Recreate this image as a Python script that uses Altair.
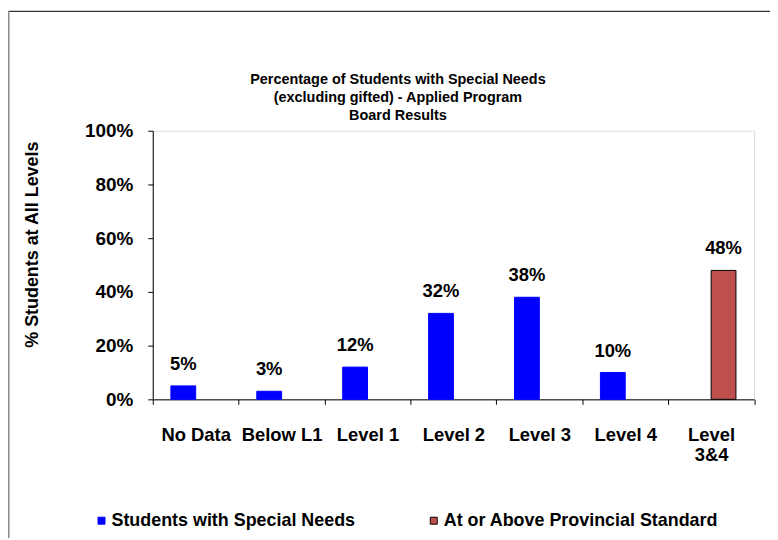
import altair as alt
import pandas as pd

categories = ["No Data", "Below L1", "Level 1", "Level 2", "Level 3", "Level 4", "Level 3&4"]
values = [5, 3, 12, 32, 38, 10, 48]
series_names = ["Students with Special Needs", "At or Above Provincial Standard"]
series = [series_names[0]] * 6 + [series_names[1]]
fill_colors = ["#0000FF", "#C0504D"]
stroke_colors = ["#0000FF", "#000000"]
title_lines = [
    "Percentage of Students with Special Needs",
    "(excluding gifted) - Applied Program",
    "Board Results",
]
y_ticks = [0, 0.2, 0.4, 0.6, 0.8, 1.0]

df = pd.DataFrame({
    "category": categories,
    "value": [v / 100 for v in values],
    "series": series,
})

FONT = "Liberation Sans"

x = alt.X(
    "category:N",
    sort=categories,
    scale=alt.Scale(paddingInner=0, paddingOuter=0),
    axis=alt.Axis(
        title=None, labelAngle=0, labelFont=FONT, labelFontSize=18.5,
        labelFontWeight="bold", labelColor="black", labelPadding=21,
        labelLineHeight=21, labelBaseline="top", labelLimit=300,
        labelExpr="datum.label == 'Level 3&4' ? ['Level', '3&4'] : datum.label",
        tickBand="extent", tickSize=5, tickColor="black", domainColor="black",
        labelOverlap=False,
    ),
)
xoff = alt.XOffset(
    "series:N", sort=series_names,
    scale=alt.Scale(domain=series_names, paddingInner=0, paddingOuter=0.731),
)
y = alt.Y(
    "value:Q",
    scale=alt.Scale(domain=[0, 1]),
    axis=alt.Axis(
        format=".0%", values=y_ticks, grid=False, title="% Students at All Levels",
        titleFont=FONT, titleFontSize=18, titleFontWeight="bold", titleColor="black",
        titleX=-120.5, titleY=114, titleAlign="center", titleBaseline="middle",
        labelFont=FONT, labelFontSize=19, labelFontWeight="bold", labelColor="black",
        labelPadding=15, tickSize=5, tickColor="black", domainColor="black",
    ),
)

legend = alt.Legend(
    title=None, orient="none", legendX=-60.5, legendY=383, direction="horizontal",
    symbolType="square", symbolSize=49, symbolStrokeWidth=1,
    labelFont=FONT, labelFontSize=18, labelFontWeight="bold", labelColor="black",
    labelLimit=400, columnPadding=69, labelOffset=1,
)

bars = alt.Chart(df).mark_bar(strokeWidth=1).encode(
    x=x, xOffset=xoff, y=y,
    fill=alt.Fill("series:N", scale=alt.Scale(domain=series_names, range=fill_colors), legend=legend),
    stroke=alt.Stroke("series:N", scale=alt.Scale(domain=series_names, range=stroke_colors), legend=legend),
)

labels = alt.Chart(df).mark_text(
    font=FONT, fontSize=18.5, fontWeight="bold", baseline="alphabetic", dy=-16, color="black"
).encode(x=x, xOffset=xoff, y=y, text=alt.Text("value:Q", format=".0%"))

one = pd.DataFrame({"k": [0]})
title = alt.Chart(one).mark_text(
    font=FONT, fontSize=14.5, fontWeight="bold", color="black", align="center",
    baseline="top", lineHeight=18,
).encode(x=alt.value(246.5), y=alt.value(-58), text=alt.value(title_lines))

frame_top = alt.Chart(one).mark_rule(color="#333333", strokeWidth=1.5).encode(
    x=alt.value(-145), x2=alt.value(640), y=alt.value(-120)
)
frame_left = alt.Chart(one).mark_rule(color="#888888", strokeWidth=1.5).encode(
    x=alt.value(-144.7), y=alt.value(-120), y2=alt.value(420)
)

chart = alt.layer(frame_top, frame_left, title, bars, labels).properties(
    width=604.5, height=270,
    padding={"left": 145.5, "top": 122, "right": 16, "bottom": 138},
    autosize=alt.AutoSizeParams(type="none"),
).configure_view(stroke=None).configure(background="white")

chart.save("out.html", embed_options={"renderer": "svg", "actions": False})
